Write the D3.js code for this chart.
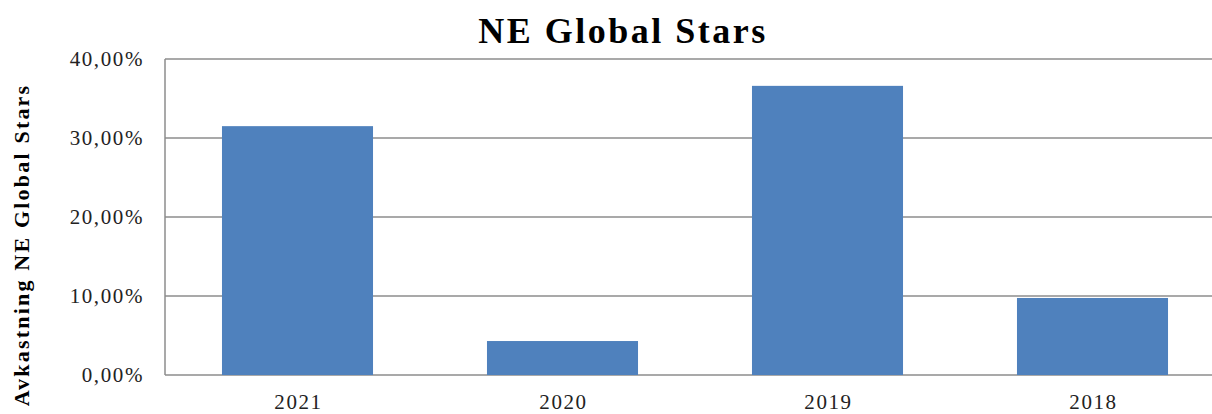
<!DOCTYPE html>
<html>
<head>
<meta charset="utf-8">
<script src="https://cdn.jsdelivr.net/npm/d3@7"></script>
<style>
  body { margin: 0; background: #fff; }
  svg { display: block; }
</style>
</head>
<body>
<div id="chart"></div>
<script>
const years = ["2021", "2020", "2019", "2018"];
const returns = [0.315, 0.043, 0.366, 0.0975];
const yTicks = [0, 0.1, 0.2, 0.3, 0.4];

const width = 1212;
const height = 414;
const margin = {top: 59, left: 165, bottom: 39};
const plotRight = 1225;

const svg = d3.select("#chart").append("svg")
    .attr("width", width)
    .attr("height", height);

const x = d3.scaleBand()
    .domain(years)
    .range([margin.left, plotRight])
    .paddingInner(0.43)
    .paddingOuter(0.215);

const y = d3.scaleLinear()
    .domain([0, 0.4])
    .range([height - margin.bottom, margin.top]);

const fmt = d => d3.format(".2f")(d * 100).replace(".", ",") + "%";

// gridlines
svg.append("g")
    .selectAll("line")
    .data(yTicks)
    .enter()
    .append("line")
    .attr("x1", margin.left)
    .attr("x2", plotRight)
    .attr("y1", d => y(d))
    .attr("y2", d => y(d))
    .attr("stroke", "#8c8c8c")
    .attr("stroke-width", 1.5);

// left axis line
svg.append("line")
    .attr("x1", margin.left)
    .attr("x2", margin.left)
    .attr("y1", y(0.4))
    .attr("y2", y(0))
    .attr("stroke", "#8c8c8c")
    .attr("stroke-width", 1.5);

// bars
svg.append("g")
    .selectAll("rect")
    .data(years)
    .enter()
    .append("rect")
    .attr("x", d => x(d))
    .attr("width", x.bandwidth())
    .attr("y", (d, i) => y(returns[i]))
    .attr("height", (d, i) => y(0) - y(returns[i]))
    .attr("fill", "#4f81bd");

// y tick labels
svg.append("g")
    .selectAll("text")
    .data(yTicks)
    .enter()
    .append("text")
    .attr("x", 144)
    .attr("y", d => y(d) + 7)
    .attr("text-anchor", "end")
    .style("font-family", "Liberation Serif")
    .style("font-size", "21px")
    .style("letter-spacing", "1.6px")
    .style("fill", "#222")
    .text(fmt);

// x labels
svg.append("g")
    .selectAll("text")
    .data(years)
    .enter()
    .append("text")
    .attr("x", d => x(d) + x.bandwidth() / 2 + 1)
    .attr("y", 409)
    .attr("text-anchor", "middle")
    .style("font-family", "Liberation Serif")
    .style("font-size", "21px")
    .style("letter-spacing", "1.6px")
    .style("fill", "#222")
    .text(d => d);

// title
svg.append("text")
    .attr("x", 623)
    .attr("y", 43)
    .attr("text-anchor", "middle")
    .style("font-family", "Liberation Serif")
    .style("font-weight", "bold")
    .style("font-size", "36px")
    .style("letter-spacing", "2.5px")
    .style("fill", "#000")
    .text("NE Global Stars");

// y axis title
svg.append("text")
    .attr("transform", "translate(29," + 245 + ") rotate(-90)")
    .attr("text-anchor", "middle")
    .style("font-family", "Liberation Serif")
    .style("font-weight", "bold")
    .style("font-size", "22px")
    .style("letter-spacing", "2.2px")
    .style("fill", "#000")
    .text("Avkastning NE Global Stars");
</script>
</body>
</html>
